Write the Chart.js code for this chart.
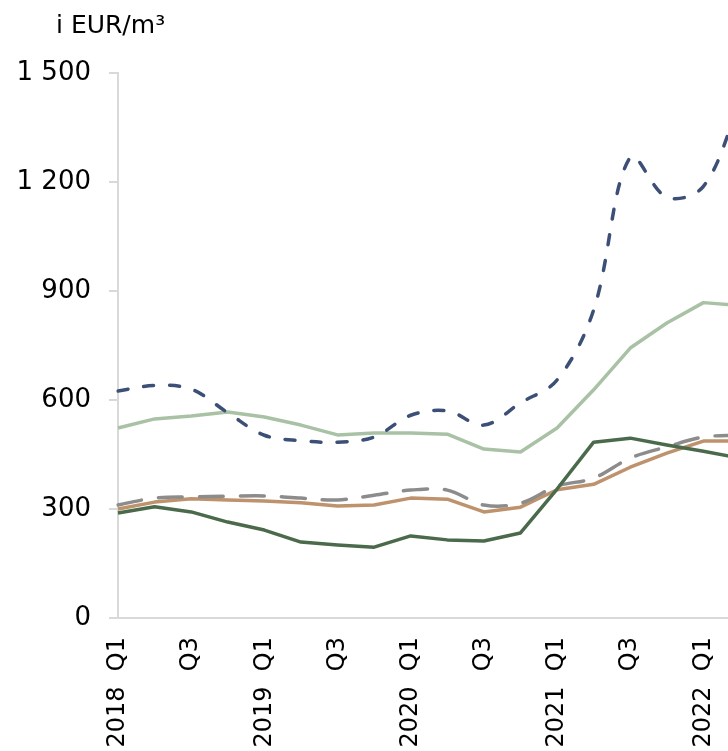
<!DOCTYPE html>
<html>
<head>
<meta charset="utf-8">
<script src="https://cdn.jsdelivr.net/npm/chart.js@4.4.1/dist/chart.umd.min.js"></script>
<style>
  html, body { margin: 0; padding: 0; background: #fff; overflow: hidden; width: 728px; height: 751px; }
  #wrap { position: relative; width: 760px; height: 800px; }
  canvas { display: block; }
</style>
</head>
<body>
<div id="wrap"><canvas id="c" width="760" height="800"></canvas></div>
<script>
const unitLabel = 'i EUR/m³';
const categories = ['2018 Q1','2018 Q2','2018 Q3','2018 Q4','2019 Q1','2019 Q2','2019 Q3','2019 Q4',
  '2020 Q1','2020 Q2','2020 Q3','2020 Q4','2021 Q1','2021 Q2','2021 Q3','2021 Q4','2022 Q1','2022 Q2'];
const tickLabels = ['2018  Q1','','Q3','','2019  Q1','','Q3','','2020  Q1','','Q3','',
  '2021  Q1','','Q3','','2022  Q1',''];
const yTicks = [0, 300, 600, 900, 1200, 1500];

const navySeries  = [625, 640, 630, 565, 503, 488, 484, 498, 558, 570, 531, 592, 655, 848, 1268, 1158, 1188, 1420];
const lightGreen  = [523, 548, 556, 567, 553, 531, 504, 509, 509, 506, 465, 457, 523, 628, 743, 812, 868, 860];
const graySeries  = [311, 330, 333, 335, 336, 330, 325, 338, 352, 352, 311, 316, 363, 385, 440, 471, 498, 503];
const tanSeries   = [300, 319, 328, 325, 322, 317, 308, 311, 330, 327, 292, 305, 353, 368, 415, 454, 487, 487];
const darkGreen   = [289, 306, 292, 264, 242, 209, 201, 195, 226, 215, 212, 234, 355, 484, 495, 476, 459, 440];

const unitTitle = {
  id: 'unitTitle',
  afterDraw(chart) {
    const ctx = chart.ctx;
    ctx.save();
    ctx.font = '25px "DejaVu Sans"';
    ctx.fillStyle = '#000';
    ctx.textBaseline = 'alphabetic';
    ctx.textAlign = 'left';
    ctx.fillText(unitLabel, 56, 33);
    ctx.restore();
  }
};

function fmt(v) {
  return String(v).replace(/\B(?=(\d{3})+(?!\d))/g, ' ');
}

new Chart(document.getElementById('c'), {
  type: 'line',
  data: {
    labels: categories,
    datasets: [
      { data: darkGreen, borderColor: '#4b6a4b', borderWidth: 3.5, tension: 0 },
      { data: navySeries, borderColor: '#3c4f76', borderWidth: 3.5, borderDash: [10, 16], borderCapStyle: 'round', tension: 0.35 },
      { data: graySeries, borderColor: '#8c8c8c', borderWidth: 3.5, borderDash: [24, 17], borderCapStyle: 'round', tension: 0.35 },
      { data: tanSeries, borderColor: '#bd926c', borderWidth: 3.5, tension: 0 },
      { data: lightGreen, borderColor: '#a9c2a5', borderWidth: 3.5, tension: 0 }
    ]
  },
  options: {
    responsive: false,
    animation: false,
    events: [],
    layout: { padding: { left: 0, top: 73, right: 20, bottom: 0 } },
    elements: { point: { radius: 0 }, line: { fill: false, borderJoinStyle: 'round' } },
    plugins: { legend: { display: false }, tooltip: { enabled: false }, title: { display: false } },
    scales: {
      x: {
        type: 'category',
        offset: false,
        grid: { display: true, drawOnChartArea: false, drawTicks: false },
        border: { display: true, color: '#d9d9d9', width: 2 },
        ticks: {
          autoSkip: false,
          minRotation: 90,
          maxRotation: 90,
          padding: 19,
          color: '#000',
          font: { family: 'DejaVu Sans', size: 24 },
          callback: (v, i) => tickLabels[i]
        },
        afterFit: (s) => { s.height = 800 - 618; s.paddingLeft = 0; s.paddingRight = 0; }
      },
      y: {
        min: 0,
        max: 1500,
        afterBuildTicks: (s) => { s.ticks = yTicks.map(v => ({ value: v })); },
        grid: { display: true, drawOnChartArea: false, drawTicks: true, tickLength: 9, color: '#d9d9d9', lineWidth: 2 },
        border: { display: true, color: '#d9d9d9', width: 2 },
        ticks: {
          padding: 18,
          color: '#000',
          font: { family: 'DejaVu Sans', size: 26 },
          callback: (v) => fmt(v)
        },
        afterFit: (s) => { s.width = 118; }
      }
    }
  },
  plugins: [unitTitle]
});
</script>
</body>
</html>
